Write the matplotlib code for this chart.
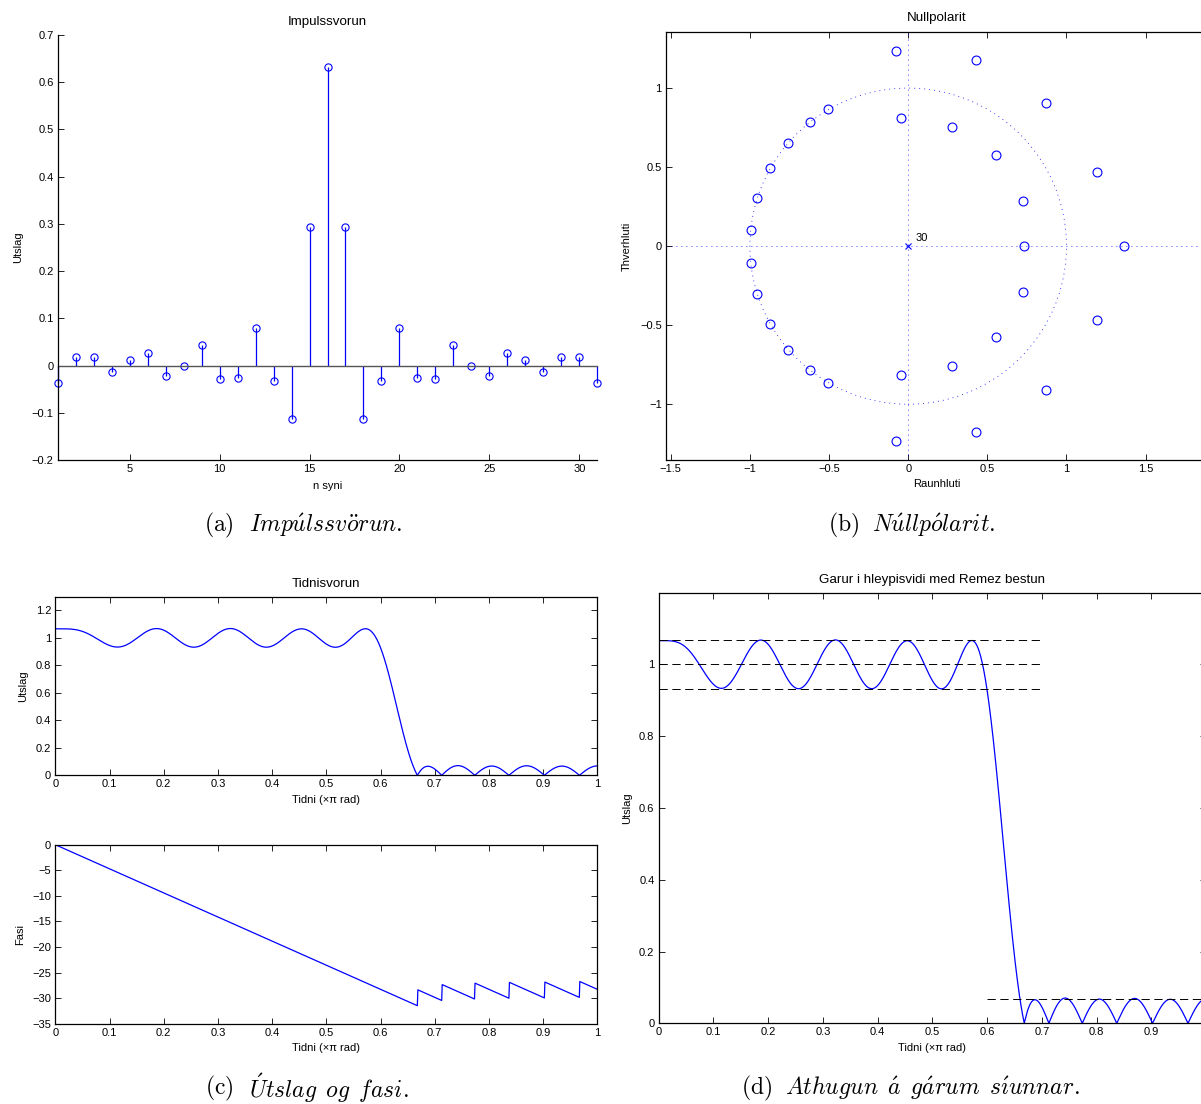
import numpy as np
import matplotlib as mpl
import matplotlib.pyplot as plt
from matplotlib.ticker import FuncFormatter

# impulse response, samples n = 1..31
n_idx = list(range(1, 32))
h_vals = [-0.0360, 0.0182, 0.0182, -0.0142, 0.0112, 0.0267, -0.0227, -0.0008,
          0.0436, -0.0290, -0.0251, 0.0795, -0.0332, -0.1129, 0.2935, 0.6324,
          0.2935, -0.1129, -0.0332, 0.0795, -0.0251, -0.0290, 0.0436, -0.0008,
          -0.0227, 0.0267, 0.0112, -0.0142, 0.0182, 0.0182, -0.0360]

zero_re_upper = [-0.995, -0.954, -0.872, -0.758, -0.622, -0.504, -0.048, -0.077,
                 0.274, 0.426, 0.552, 0.872, 0.726, 1.194]
zero_im_upper = [0.105, 0.303, 0.493, 0.655, 0.785, 0.865, 0.813, 1.232,
                 0.756, 1.177, 0.575, 0.907, 0.288, 0.469]
zero_re_real = [0.734, 1.361]
pole_order = "30"

# ripple limits
pass_levels = [1.067, 1.0, 0.933]
pass_span = [0.0, 0.7]
stop_levels = [0.067]
stop_span = [0.6, 1.0]

titles = ["Impulssvorun", "Nullpolarit", "Tidnisvorun", "Garur i hleypisvidi med Remez bestun"]
caption_tags = [r"$\mathrm{(a)}$", r"$\mathrm{(b)}$", r"$\mathrm{(c)}$", r"$\mathrm{(d)}$"]
caption_texts = [r"$\mathit{Imp\acute{u}lssv\ddot{o}run.}$",
                 r"$\mathit{N\acute{u}llp\acute{o}larit.}$",
                 r"$\mathit{\acute{U}tslag\ \,og\ \,fasi.}$",
                 r"$\mathit{Athugun\ \,\acute{a}\ \,g\acute{a}rum\ \,s\acute{\imath}unnar.}$"]

BLUE = "#0000ff"
W, H = 1201, 1104

mpl.rcParams.update({
    "font.family": ["Liberation Sans", "DejaVu Sans"],
    "font.size": 8,
    "mathtext.fontset": "cm",
    "axes.linewidth": 0.9,
    "axes.unicode_minus": True,
    "xtick.direction": "in",
    "ytick.direction": "in",
    "xtick.major.size": 4,
    "ytick.major.size": 4,
    "xtick.major.width": 0.6,
    "ytick.major.width": 0.6,
})


def px_axes(fig, left, top, right, bottom):
    return fig.add_axes([left / W, 1 - bottom / H, (right - left) / W, (bottom - top) / H])


def mfmt(v, pos):
    if abs(v) < 1e-9:
        return "0"
    return f"{v:g}".replace("-", "\u2212")


def set_labels(ax, xlabel, ylabel, xlab_y, ylab_x, box):
    # box = (left, top, right, bottom) in pixels; label centres in pixels
    l, t, r, b = box
    ax.set_xlabel(xlabel)
    ax.set_ylabel(ylabel)
    ax.xaxis.set_label_coords(0.5, -((xlab_y - 6) - b) / (b - t))
    ax.yaxis.set_label_coords((ylab_x + 6 - l) / (r - l), 0.5)


fig = plt.figure(figsize=(W / 100, H / 100), dpi=100)

# frequency response of the impulse response above
nfft = 2048
Hf = np.fft.rfft(np.array(h_vals), nfft)
freq = np.linspace(0, 1, nfft // 2 + 1)
mag = np.abs(Hf)
phase = np.unwrap(np.angle(Hf))

DOT = (0, (1, 5))
DASH = (0, (8.5, 4.7))

# ---- (a) impulse response
box_a = (57.7, 34.7, 597.3, 460.3)
ax_a = px_axes(fig, *box_a)
ml, sl, bl = ax_a.stem(n_idx, h_vals, linefmt="-", markerfmt="o", basefmt="-")
plt.setp(sl, color=BLUE, linewidth=0.9)
plt.setp(ml, markerfacecolor="none", markeredgecolor=BLUE, markersize=5.2, markeredgewidth=0.8)
plt.setp(bl, color="#555555", linewidth=1.0)
for art in [ml, sl, bl]:
    art.set_clip_on(False)
ax_a.set_xlim(1, 31)
ax_a.set_ylim(-0.2, 0.7)
ax_a.set_xticks([5, 10, 15, 20, 25, 30])
ax_a.set_yticks(np.arange(-0.2, 0.71, 0.1))
ax_a.yaxis.set_major_formatter(FuncFormatter(mfmt))
ax_a.spines["top"].set_visible(False)
ax_a.spines["right"].set_visible(False)
ax_a.tick_params(pad=3)
ax_a.set_title(titles[0], pad=7)
set_labels(ax_a, "n syni", "Utslag", 487, 16.7, box_a)

# ---- (b) pole-zero plot
box_b = (666, 32.3, 1208, 460)
ax_b = px_axes(fig, *box_b)
zr = np.concatenate([zero_re_upper, zero_re_upper, zero_re_real])
zi = np.concatenate([zero_im_upper, -np.array(zero_im_upper), np.zeros(len(zero_re_real))])
ax_b.set_xlim(-1.53, 1.894)
ax_b.set_ylim(-1.353, 1.353)
circ = mpl.patches.Circle((0, 0), 1.0, fill=False, edgecolor=BLUE, linestyle=DOT, linewidth=0.6)
ax_b.add_patch(circ)
ax_b.axhline(0, color=BLUE, linestyle=DOT, linewidth=0.6)
ax_b.axvline(0, color=BLUE, linestyle=DOT, linewidth=0.6)
ax_b.plot(zr, zi, "o", markerfacecolor="none", markeredgecolor=BLUE, markersize=6.4, markeredgewidth=0.8)
ax_b.plot([0], [0], "x", color=BLUE, markersize=5, markeredgewidth=0.8)
ax_b.text(0.045, 0.018, pole_order, ha="left", va="bottom", fontsize=8)
ax_b.set_xticks([-1.5, -1, -0.5, 0, 0.5, 1, 1.5])
ax_b.set_yticks([-1, -0.5, 0, 0.5, 1])
ax_b.xaxis.set_major_formatter(FuncFormatter(mfmt))
ax_b.yaxis.set_major_formatter(FuncFormatter(mfmt))
ax_b.tick_params(top=True, right=True, pad=3)
ax_b.set_title(titles[1], pad=8)
set_labels(ax_b, "Raunhluti", "Thverhluti", 485, 626, box_b)

# ---- (c) magnitude and phase
box_c1 = (55.3, 596.7, 597.3, 775.3)
ax_c1 = px_axes(fig, *box_c1)
ax_c1.plot(freq, mag, color=BLUE, linewidth=0.9)
ax_c1.set_xlim(0, 1)
ax_c1.set_ylim(0, 1.3)
ax_c1.set_xticks(np.arange(0, 1.01, 0.1))
ax_c1.set_yticks(np.arange(0, 1.21, 0.2))
ax_c1.xaxis.set_major_formatter(FuncFormatter(mfmt))
ax_c1.yaxis.set_major_formatter(FuncFormatter(mfmt))
ax_c1.tick_params(top=True, right=True, pad=3)
ax_c1.set_title(titles[2], pad=7)
set_labels(ax_c1, "Tidni (\u00d7\u03c0 rad)", "Utslag", 800.7, 22.5, box_c1)

box_c2 = (55.3, 844.7, 597.3, 1023.7)
ax_c2 = px_axes(fig, *box_c2)
ax_c2.plot(freq, phase, color=BLUE, linewidth=0.9)
ax_c2.set_xlim(0, 1)
ax_c2.set_ylim(-35, 0)
ax_c2.set_xticks(np.arange(0, 1.01, 0.1))
ax_c2.set_yticks(np.arange(-35, 0.1, 5))
ax_c2.xaxis.set_major_formatter(FuncFormatter(mfmt))
ax_c2.yaxis.set_major_formatter(FuncFormatter(mfmt))
ax_c2.tick_params(top=True, right=True, pad=3)
set_labels(ax_c2, "Tidni (\u00d7\u03c0 rad)", "Fasi", 1049, 18.7, box_c2)

# ---- (d) ripple detail
box_d = (658.6, 592.7, 1206, 1023.3)
ax_d = px_axes(fig, *box_d)
ax_d.plot(freq, mag, color=BLUE, linewidth=0.9)
for lev in pass_levels:
    ax_d.plot(pass_span, [lev, lev], color="black", linestyle=DASH, linewidth=0.7)
for lev in stop_levels:
    ax_d.plot(stop_span, [lev, lev], color="black", linestyle=DASH, linewidth=0.7)
ax_d.set_xlim(0, 1)
ax_d.set_ylim(0, 1.2)
ax_d.set_xticks(np.arange(0, 1.01, 0.1))
ax_d.set_yticks(np.arange(0, 1.01, 0.2))
# the label of the last tick falls outside the figure in the reference
ax_d.xaxis.set_major_formatter(FuncFormatter(lambda v, p: "" if v > 0.95 else mfmt(v, p)))
ax_d.yaxis.set_major_formatter(FuncFormatter(mfmt))
ax_d.tick_params(top=True, right=True, pad=3)
ax_d.set_title(titles[3], pad=7)
set_labels(ax_d, "Tidni (\u00d7\u03c0 rad)", "Utslag", 1049, 626, box_d)

# ---- captions
cap_pos = [(204, 525), (828, 525), (205, 1088), (741, 1088)]
cap_text_x = [249, 872, 249, 785]
for (cx, cy), tx, tag, txt in zip(cap_pos, cap_text_x, caption_tags, caption_texts):
    fig.text(cx / W, 1 - cy / H, tag, ha="left", va="center", fontsize=17)
    fig.text(tx / W, 1 - cy / H, txt, ha="left", va="center", fontsize=17)

fig.savefig("out.png", dpi=100)
